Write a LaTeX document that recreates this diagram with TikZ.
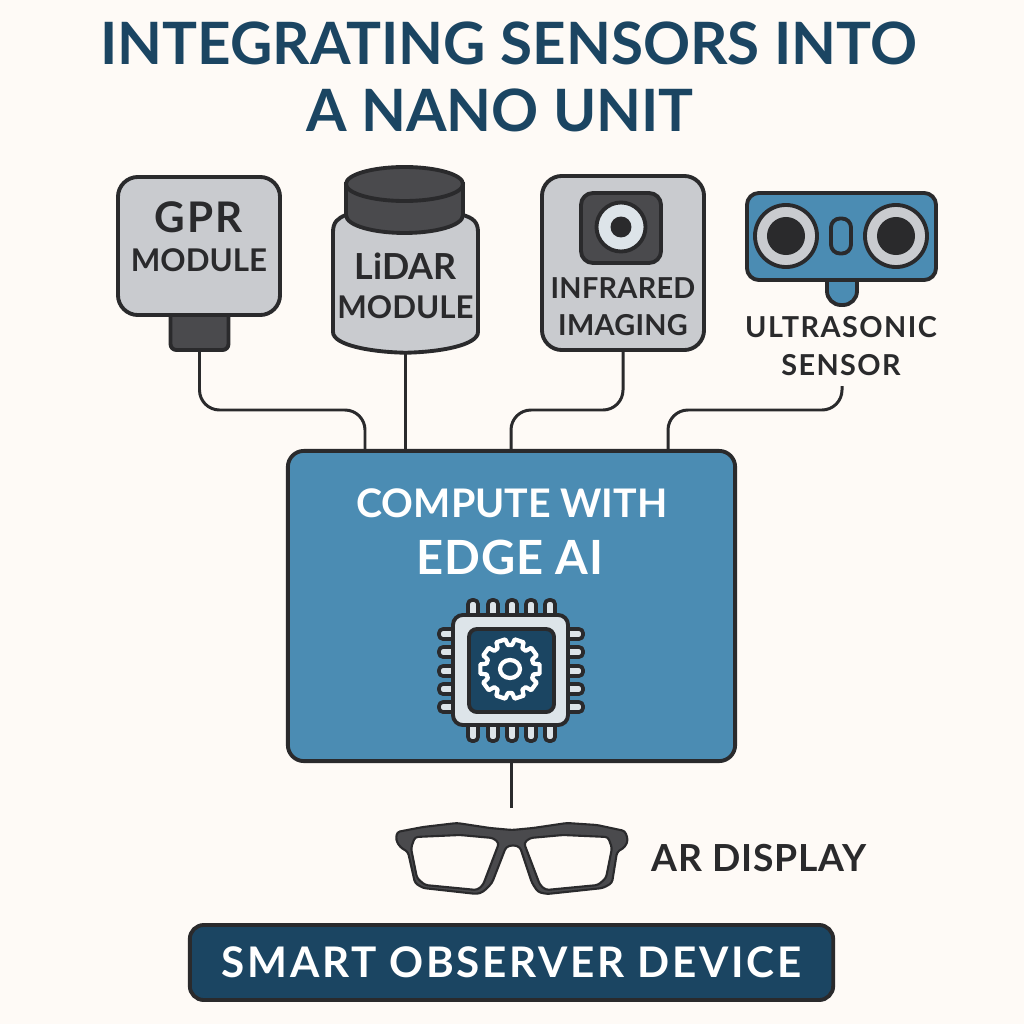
\documentclass[tikz,border=0pt]{standalone}
\usepackage{xcolor}
\usepackage{fontspec}
\setmainfont{Lato}
\usetikzlibrary{positioning,calc}
\definecolor{pagecream}{HTML}{FEFAF6}
\definecolor{sensorgray}{HTML}{C9CBCF}
\definecolor{housegray}{HTML}{4A4A4D}
\definecolor{inkdark}{HTML}{2A2A2C}
\definecolor{edgeblue}{HTML}{4B8CB3}
\definecolor{navyblue}{HTML}{1B4562}
\definecolor{chipgray}{HTML}{DDE4E9}
\tikzset{
  outline/.style={draw=inkdark, line width=1.1pt},
  sensorbox/.style={outline, fill=sensorgray, rounded corners=0.2cm, inner sep=0pt},
  darkpart/.style={outline, fill=housegray},
  wire/.style={draw=inkdark, line width=0.85pt, rounded corners=0.2cm},
  labeltext/.style={text=inkdark, font=\bfseries, align=center, inner sep=0pt},
  headingtext/.style={text=navyblue, font=\bfseries\fontsize{16.6pt}{19.2pt}\selectfont, inner sep=0pt},
  chippin/.style={draw=inkdark, line width=1.05pt, line join=round, fill=chipgray, rounded corners=0.04cm},
  gearline/.style={draw=white, line width=1.2pt, line join=round}
}
\begin{document}
\begin{tikzpicture}[x=0.01cm, y=-0.01cm]
    \fill[pagecream] (0,0) rectangle (1024,1024);
    \useasboundingbox (0,0) rectangle (1024,1024);

    % heading
    \node[headingtext] (headingtop) at (508.5,43) {INTEGRATING SENSORS INTO};
    \node[headingtext] (headingsub) at (500,110) {A NANO UNIT};

    % sensors
    \node[darkpart, rounded corners=0.06cm, minimum width=0.58cm, minimum height=0.5cm, inner sep=0pt] (gprplug) at (199.5,325) {};
    \node[sensorbox, minimum width=1.62cm, minimum height=1.38cm] (gprbox) at (199,246) {};
    \node[labeltext] (gprtext) at (199,237) {{\fontsize{12pt}{13pt}\selectfont\addfontfeatures{LetterSpace=5} GPR}\\[-1pt]{\fontsize{8.9pt}{11pt}\selectfont MODULE}};

    \node[minimum width=1.45cm, minimum height=1.39cm, inner sep=0pt] (lidarbody) at (405.5,282.5) {};
    \draw[outline, fill=sensorgray] (346,215) .. controls (338,218) and (333,222) .. (333,232) -- (333,332) .. controls (333,345) and (370,352) .. (lidarbody.south) .. controls (441,352) and (478,345) .. (478,332) -- (478,232) .. controls (478,222) and (473,218) .. (463,215) -- cycle;
    \draw[darkpart] (346,184) -- (346,215) .. controls (346,226) and (375,233) .. (404.5,233) .. controls (434,233) and (463,226) .. (463,215) -- (463,184) -- cycle;
    \draw[darkpart] (404.5,184) ellipse[x radius=58.5, y radius=17];
    \node[labeltext] (lidartext) at (405.5,286) {{\fontsize{10.2pt}{12pt}\selectfont LiDAR}\\[-1pt]{\fontsize{8.9pt}{11pt}\selectfont MODULE}};

    \node[sensorbox, minimum width=1.62cm, minimum height=1.74cm] (irbox) at (623,263) {};
    \node[darkpart, rounded corners=0.12cm, minimum width=0.8cm, minimum height=0.7cm, inner sep=0pt] (ircase) at (621,228) {};
    \node[outline, circle, fill=chipgray, minimum size=0.49cm, inner sep=0pt] (irring) at (621,227) {};
    \node[outline, circle, fill=inkdark, minimum size=0.17cm, inner sep=0pt] (irlens) at (621,227) {};
    \node[labeltext, font=\bfseries\fontsize{8.2pt}{10.6pt}\selectfont\addfontfeatures{LetterSpace=1}] (irtext) at (623,307) {INFRARED\\IMAGING};

    \node[outline, fill=edgeblue, rounded corners=0.14cm, minimum width=0.3cm, minimum height=0.44cm, inner sep=0pt] (ustab) at (842,283) {};
    \node[outline, fill=edgeblue, rounded corners=0.12cm, minimum width=1.89cm, minimum height=0.87cm, inner sep=0pt] (usboard) at (841.5,236.5) {};
    \foreach \cx/\tag in {786/left, 896/right} {
        \node[outline, circle, fill=sensorgray, minimum size=0.62cm, inner sep=0pt] (usring\tag) at (\cx,236) {};
        \node[circle, fill=inkdark, minimum size=0.38cm, inner sep=0pt] (uscore\tag) at (\cx,236) {};
    }
    \node[outline, fill=edgeblue, rounded corners=0.09cm, minimum width=0.2cm, minimum height=0.35cm, inner sep=0pt] (usslot) at (841,236) {};
    \node[labeltext, font=\bfseries\fontsize{8.2pt}{10.6pt}\selectfont\addfontfeatures{LetterSpace=5}] (ustext) at (841,346) {ULTRASONIC\\SENSOR};

    % compute unit
    \node[outline, fill=edgeblue, rounded corners=0.16cm, minimum width=4.47cm, minimum height=3.1cm, inner sep=0pt] (computebox) at (511.5,606) {};
    \node[text=white, font=\bfseries\fontsize{11.2pt}{13pt}\selectfont, inner sep=0pt] (computetext) at (512,503) {COMPUTE WITH};
    \node[text=white, font=\bfseries\fontsize{13.4pt}{15pt}\selectfont\addfontfeatures{LetterSpace=2}, inner sep=0pt] (edgetext) at (510,557) {EDGE AI};

    % chip with its pins and gear
    \foreach \p in {473,493,512,531,550} {
        \draw[chippin] ({\p-5},600) rectangle ({\p+5},622);
        \draw[chippin] ({\p-5},720) rectangle ({\p+5},741);
    }
    \foreach \p in {634,652,671,689,707} {
        \draw[chippin] (439,{\p-5}) rectangle (460,{\p+5});
        \draw[chippin] (562,{\p-5}) rectangle (583,{\p+5});
    }
    \node[outline, fill=chipgray, rounded corners=0.1cm, minimum width=1.15cm, minimum height=1.1cm, inner sep=0pt] (chipbox) at (510.5,670) {};
    \node[outline, fill=navyblue, rounded corners=0.08cm, minimum width=0.85cm, minimum height=0.83cm, inner sep=0pt] (chipcore) at (511.5,670.5) {};
    \begin{scope}[shift={(510,669)}]
        \draw[gearline] (9:30) \foreach \a in {0,36,...,324} { -- ({\a+9}:30) -- ({\a+13}:24) -- ({\a+23}:24) -- ({\a+27}:30) } -- cycle;
        \draw[gearline] (0,0) ellipse[x radius=10, y radius=9];
    \end{scope}

    % glasses
    \draw[outline, fill=housegray, even odd rule, rounded corners=0.03cm, line width=0.6pt]
        (397,832) -- (423,827) -- (457,823) -- (490,828) -- (512,830) -- (533,828) -- (567,823) -- (597,825) -- (625,831) -- (628,840) -- (625,847) -- (617,852) -- (612,883) -- (603,888) -- (547,894) -- (538,892) -- (532,883) -- (520,847) -- (513,845) -- (506,847) -- (492,883) -- (483,892) -- (477,894) -- (423,888) -- (415,883) -- (408,852) -- (400,847) -- (396,840) -- cycle
        (415,837) -- (460,835) -- (493,838) -- (499,843) -- (483,885) -- (477,890) -- (425,885) -- (417,878) -- (411,848) -- cycle
        (608,837) -- (563,835) -- (530,838) -- (524,843) -- (540,885) -- (546,890) -- (598,885) -- (606,878) -- (612,848) -- cycle;
    \coordinate (glassestop) at (511.5,808);
    \node[labeltext, font=\bfseries\fontsize{10.6pt}{12pt}\selectfont\addfontfeatures{LetterSpace=2}] (artext) at (759,858) {AR DISPLAY};

    % badge
    \node[outline, fill=navyblue, rounded corners=0.14cm, minimum width=6.43cm, minimum height=0.75cm, inner sep=0pt, text=white, font=\bfseries\fontsize{12pt}{14pt}\selectfont\addfontfeatures{LetterSpace=6.4}] (devicebadge) at (511.5,962.5) {SMART OBSERVER DEVICE};

    % connectors
    \coordinate (gprin) at (365,410);
    \coordinate (irin) at (511,410);
    \coordinate (usin) at (668,410);
    \coordinate (usout) at (842,386);
    \draw[wire] (gprplug.south) |- (gprin) -- (gprin |- computebox.north);
    \draw[wire] (lidarbody.south) -- (lidarbody.south |- computebox.north);
    \draw[wire] (irbox.south) |- (irin) -- (irin |- computebox.north);
    \draw[wire] (usout) |- (usin) -- (usin |- computebox.north);
    \draw[wire] (computebox.south) -- (glassestop);
\end{tikzpicture}
\end{document}
